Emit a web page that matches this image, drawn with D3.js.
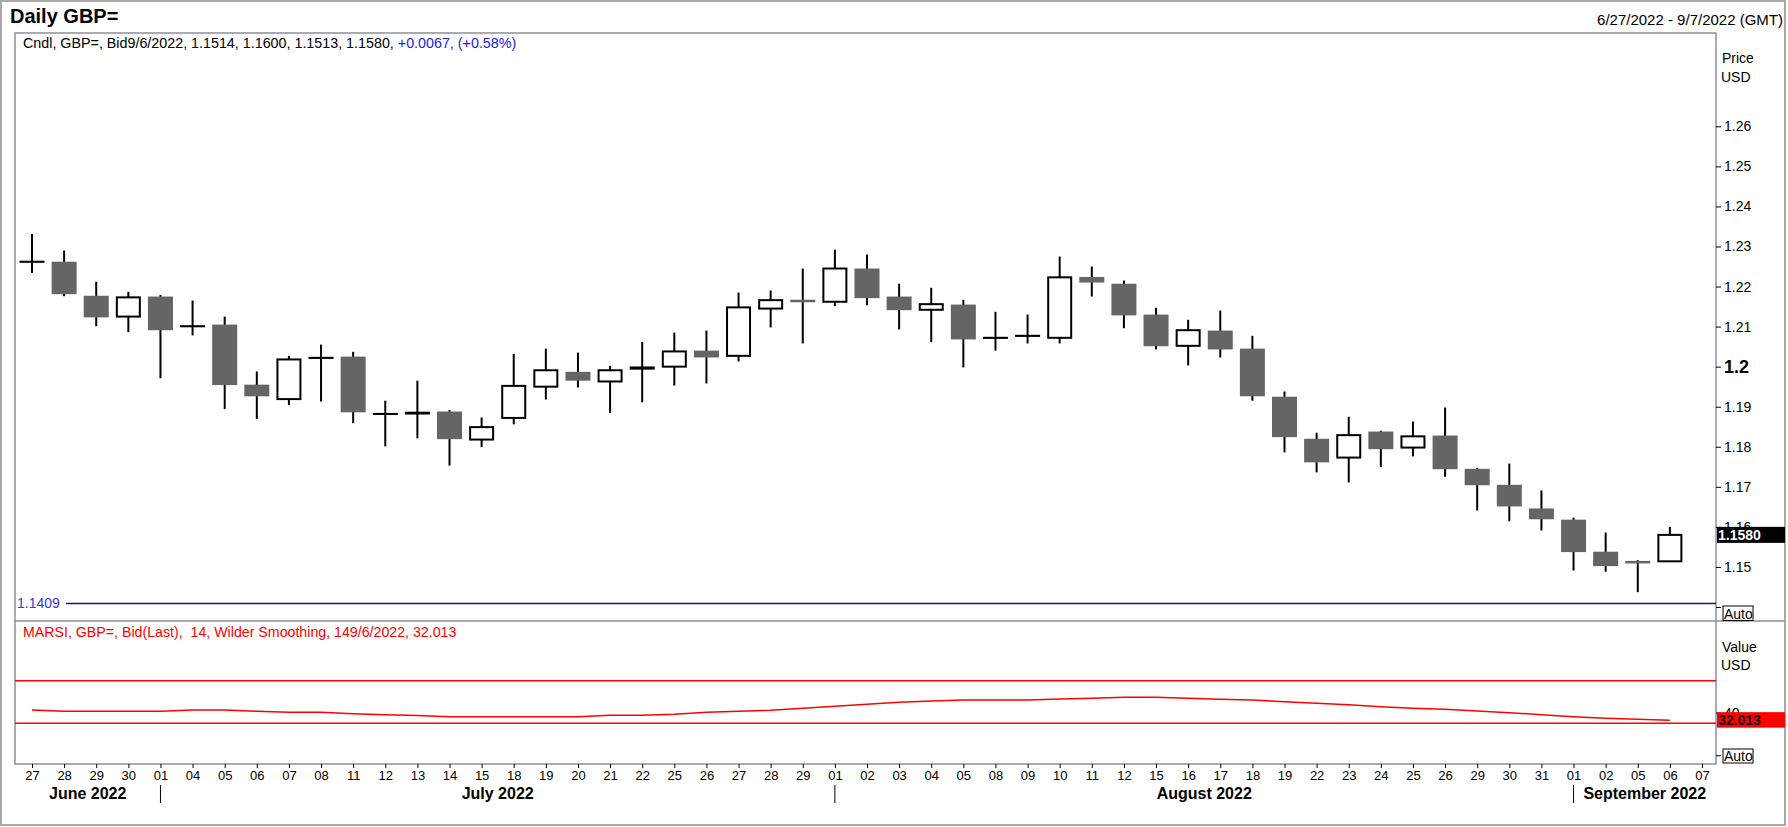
<!DOCTYPE html>
<html>
<head>
<meta charset="utf-8">
<script src="https://cdn.jsdelivr.net/npm/d3@7"></script>
<style>
  body { margin: 0; background: #fff; }
  svg { display: block; font-family: "Liberation Sans", Arial, sans-serif; }
  text { white-space: pre; }
</style>
</head>
<body>
<div id="container"></div>
<script>
/* DATA */
const dates = [
  "2022-06-27", "2022-06-28", "2022-06-29", "2022-06-30",
  "2022-07-01", "2022-07-04", "2022-07-05", "2022-07-06", "2022-07-07", "2022-07-08",
  "2022-07-11", "2022-07-12", "2022-07-13", "2022-07-14", "2022-07-15",
  "2022-07-18", "2022-07-19", "2022-07-20", "2022-07-21", "2022-07-22",
  "2022-07-25", "2022-07-26", "2022-07-27", "2022-07-28", "2022-07-29",
  "2022-08-01", "2022-08-02", "2022-08-03", "2022-08-04", "2022-08-05",
  "2022-08-08", "2022-08-09", "2022-08-10", "2022-08-11", "2022-08-12",
  "2022-08-15", "2022-08-16", "2022-08-17", "2022-08-18", "2022-08-19",
  "2022-08-22", "2022-08-23", "2022-08-24", "2022-08-25", "2022-08-26",
  "2022-08-29", "2022-08-30", "2022-08-31",
  "2022-09-01", "2022-09-02", "2022-09-05", "2022-09-06", "2022-09-07"
];
const monthNames = ["June 2022", "July 2022", "August 2022", "September 2022"];

const open = [1.2262, 1.2262, 1.2177, 1.2125, 1.2175, 1.2101, 1.2105, 1.1955, 1.1919, 1.2022,
  1.2025, 1.1882, 1.1883, 1.1888, 1.1818, 1.1872, 1.1950, 1.1987, 1.1963, 1.1995,
  1.2000, 1.2040, 1.2027, 1.2145, 1.2167, 1.2162, 1.2245, 1.2175, 1.2142, 1.2155,
  1.2072, 1.2077, 1.2072, 1.2224, 1.2207, 1.2130, 1.2052, 1.2090, 1.2045, 1.1925,
  1.1820, 1.1773, 1.1838, 1.1798, 1.1828, 1.1745, 1.1705, 1.1646, 1.1618, 1.1538,
  1.1515, 1.1514];
const high = [1.2331, 1.2290, 1.2212, 1.2187, 1.2179, 1.2165, 1.2125, 1.1988, 1.2027, 1.2055,
  1.2037, 1.1915, 1.1965, 1.1892, 1.1873, 1.2032, 1.2045, 1.2035, 1.2002, 1.2062,
  1.2085, 1.2090, 1.2185, 1.2190, 1.2245, 1.2292, 1.2280, 1.2207, 1.2197, 1.2167,
  1.2137, 1.2130, 1.2275, 1.2250, 1.2215, 1.2147, 1.2117, 1.2140, 1.2077, 1.1938,
  1.1835, 1.1875, 1.1840, 1.1863, 1.1898, 1.1747, 1.1758, 1.1691, 1.1623, 1.1586,
  1.1517, 1.1600];
const low = [1.2234, 1.2176, 1.2101, 1.2086, 1.1971, 1.2078, 1.1894, 1.1869, 1.1904, 1.1913,
  1.1859, 1.1801, 1.1821, 1.1753, 1.1799, 1.1856, 1.1918, 1.1948, 1.1884, 1.1911,
  1.1953, 1.1958, 1.2013, 1.2098, 1.2058, 1.2151, 1.2153, 1.2093, 1.2061, 1.1998,
  1.2040, 1.2058, 1.2058, 1.2175, 1.2096, 1.2043, 1.2003, 1.2023, 1.1915, 1.1786,
  1.1736, 1.1711, 1.1749, 1.1776, 1.1725, 1.1641, 1.1614, 1.1591, 1.1491, 1.1488,
  1.1437, 1.1513];
const close = [1.2262, 1.2181, 1.2123, 1.2173, 1.2091, 1.2101, 1.1954, 1.1926, 1.2018, 1.2022,
  1.1886, 1.1882, 1.1885, 1.1819, 1.1849, 1.1952, 1.1991, 1.1965, 1.1991, 1.1998,
  1.2038, 1.2023, 1.2148, 1.2166, 1.2164, 1.2245, 1.2171, 1.2141, 1.2156, 1.2068,
  1.2072, 1.2077, 1.2223, 1.2210, 1.2128, 1.2051, 1.2091, 1.2043, 1.1926, 1.1824,
  1.1761, 1.1829, 1.1794, 1.1826, 1.1744, 1.1704, 1.1651, 1.1619, 1.1537, 1.1502,
  1.1513, 1.1580];

const rsi = [42.5, 41.3, 41.3, 41.3, 41.3, 42.5, 42.5, 41.3, 40.3, 40.3,
  39.0, 38.1, 37.2, 36.2, 36.2, 36.2, 36.2, 36.2, 37.5, 37.5,
  38.5, 40.3, 41.3, 42.2, 44.1, 46.0, 47.8, 49.7, 50.9, 51.9,
  51.9, 51.9, 52.8, 53.5, 54.4, 54.4, 53.5, 52.5, 51.9, 50.3,
  48.8, 47.5, 45.6, 44.1, 43.1, 41.5, 40.0, 38.1, 36.2, 34.7,
  33.8, 32.8];

const priceTicks = [1.14, 1.15, 1.16, 1.17, 1.18, 1.19, 1.2, 1.21, 1.22, 1.23, 1.24, 1.25, 1.26];
const rsiTicks = [0, 40];
const rsiLevels = [70, 30];
const lowLevel = 1.1409;
const lastRsi = 32.013;

/* CONSTANTS AND GLOBALS */
const width = 1788;
const height = 827;
const plot = { left: 15, right: 1716, top: 33, split: 621, bottom: 764 };
const frameColor = "#8f8f9f";
const bodyWidth = 25;

const candles = open.map((o, i) => ({
  date: dates[i], open: o, high: high[i], low: low[i], close: close[i]
}));

/* SCALES */
const xScale = d3.scalePoint()
  .domain(dates)
  .range([32, 1702]);

const yPrice = d3.scaleLinear()
  .domain([1.1365, 1.2833])
  .range([plot.split, plot.top]);

const yRsi = d3.scaleLinear()
  .domain([-8.2, 126])
  .range([plot.bottom, plot.split]);

/* SVG ELEMENT */
const svg = d3.select("#container")
  .append("svg")
  .attr("width", width)
  .attr("height", height);

svg.append("rect")
  .attr("x", 1).attr("y", 1)
  .attr("width", 1784).attr("height", 824)
  .attr("fill", "#fff")
  .attr("stroke", "#a9a9a9")
  .attr("stroke-width", 2);

/* HEADER */
svg.append("text")
  .attr("x", 10).attr("y", 23)
  .style("font-size", "20px")
  .style("font-weight", "bold")
  .text("Daily GBP=");

svg.append("text")
  .attr("x", 1783).attr("y", 25)
  .attr("text-anchor", "end")
  .style("font-size", "15px")
  .text("6/27/2022 - 9/7/2022 (GMT)");

/* PANEL FRAMES */
svg.append("rect")
  .attr("x", plot.left).attr("y", plot.top)
  .attr("width", plot.right - plot.left)
  .attr("height", plot.bottom - plot.top)
  .attr("fill", "none")
  .attr("stroke", frameColor)
  .attr("stroke-width", 1.5);

svg.append("line")
  .attr("x1", plot.left).attr("x2", 1785)
  .attr("y1", plot.split).attr("y2", plot.split)
  .attr("stroke", frameColor)
  .attr("stroke-width", 1.5);

/* LOW LEVEL LINE */
svg.append("line")
  .attr("x1", 66).attr("x2", plot.right)
  .attr("y1", yPrice(lowLevel)).attr("y2", yPrice(lowLevel))
  .attr("stroke", "#12129a")
  .attr("stroke-width", 1.5);

svg.append("text")
  .attr("x", 17).attr("y", yPrice(lowLevel) + 5)
  .attr("fill", "#3a3ad0")
  .style("font-size", "14px")
  .text(lowLevel.toFixed(4));

/* CANDLES */
const candleG = svg.append("g");

candleG.selectAll("line.wick")
  .data(candles)
  .join("line")
  .attr("class", "wick")
  .attr("x1", d => xScale(d.date)).attr("x2", d => xScale(d.date))
  .attr("y1", d => yPrice(d.high)).attr("y2", d => yPrice(d.low))
  .attr("stroke", "#000")
  .attr("stroke-width", 2);

candleG.selectAll("rect.body")
  .data(candles)
  .join("rect")
  .attr("class", "body")
  .each(function(d) {
    const up = d.close >= d.open;
    const top = yPrice(Math.max(d.open, d.close));
    const h = Math.abs(yPrice(d.open) - yPrice(d.close));
    const r = d3.select(this);
    if (up) {
      r.attr("x", xScale(d.date) - bodyWidth / 2 + 1)
        .attr("width", bodyWidth - 2)
        .attr("y", top)
        .attr("height", Math.max(h, 0.1))
        .attr("fill", "#fff")
        .attr("stroke", "#000")
        .attr("stroke-width", 2);
    } else {
      r.attr("x", xScale(d.date) - bodyWidth / 2)
        .attr("width", bodyWidth)
        .attr("y", top)
        .attr("height", Math.max(h, 2.5))
        .attr("fill", "#656565");
    }
  });

/* PRICE AXIS */
const priceAxis = svg.append("g")
  .attr("transform", `translate(${plot.right}, 0)`)
  .call(d3.axisRight(yPrice)
    .tickValues(priceTicks)
    .tickSize(5)
    .tickPadding(3)
    .tickFormat(d => d === 1.2 ? "1.2" : d3.format(".2f")(d)));

priceAxis.select(".domain").remove();
priceAxis.selectAll("line").attr("stroke", "#000");
priceAxis.selectAll("text")
  .attr("fill", "#000")
  .style("font-family", "Liberation Sans, Arial, sans-serif")
  .style("font-size", d => d === 1.2 ? "18px" : "14px")
  .style("font-weight", d => d === 1.2 ? "bold" : "normal");
priceAxis.selectAll(".tick").filter(d => d < 1.145).select("text").remove();

svg.append("text")
  .attr("x", 1722).attr("y", 63)
  .style("font-size", "14px")
  .text("Price");
svg.append("text")
  .attr("x", 1721).attr("y", 82)
  .style("font-size", "14px")
  .text("USD");

/* LAST PRICE LABEL */
const lastClose = close[close.length - 1];
svg.append("rect")
  .attr("x", 1717).attr("y", yPrice(lastClose) - 8)
  .attr("width", 68).attr("height", 16)
  .attr("fill", "#000");
svg.append("text")
  .attr("x", 1718).attr("y", yPrice(lastClose) + 5)
  .attr("fill", "#fff")
  .style("font-size", "14px")
  .style("font-weight", "bold")
  .text(lastClose.toFixed(4));

/* AUTO BOXES */
function autoBox(y, h) {
  svg.append("rect")
    .attr("x", 1723).attr("y", y)
    .attr("width", 30).attr("height", h)
    .attr("fill", "#fff")
    .attr("stroke", "#000")
    .attr("stroke-width", 1);
  svg.append("text")
    .attr("x", 1724).attr("y", y + h - 2)
    .style("font-size", "14px")
    .text("Auto");
}
autoBox(606, 14.5);

/* LEGEND */
const n = candles.length - 1;
const change = close[n] - close[n - 1];
const legend = svg.append("text")
  .attr("x", 23).attr("y", 48)
  .style("font-size", "14.3px");
legend.append("tspan")
  .attr("fill", "#000")
  .text(`Cndl, GBP=, Bid9/6/2022, ${open[n].toFixed(4)}, ${high[n].toFixed(4)}, ${low[n].toFixed(4)}, ${close[n].toFixed(4)}, `);
legend.append("tspan")
  .attr("fill", "#2020ee")
  .text(`+${change.toFixed(4)}, (+${(change / close[n - 1] * 100).toFixed(2)}%)`);

/* RSI PANEL */
svg.append("text")
  .attr("x", 23).attr("y", 637)
  .attr("fill", "#ff0000")
  .style("font-size", "14.2px")
  .text(`MARSI, GBP=, Bid(Last),  14, Wilder Smoothing, 149/6/2022, ${lastRsi.toFixed(3)}`);

svg.selectAll("line.level")
  .data(rsiLevels)
  .join("line")
  .attr("class", "level")
  .attr("x1", plot.left).attr("x2", plot.right)
  .attr("y1", d => yRsi(d)).attr("y2", d => yRsi(d))
  .attr("stroke", "#ff0000")
  .attr("stroke-width", 1.5);

svg.append("path")
  .datum(rsi)
  .attr("d", d3.line()
    .x((d, i) => xScale(dates[i]))
    .y(d => yRsi(d)))
  .attr("fill", "none")
  .attr("stroke", "#ff0000")
  .attr("stroke-width", 1.5);

const rsiAxis = svg.append("g")
  .attr("transform", `translate(${plot.right}, 0)`)
  .call(d3.axisRight(yRsi)
    .tickValues(rsiTicks)
    .tickSize(5)
    .tickPadding(3));
rsiAxis.select(".domain").remove();
rsiAxis.selectAll("line").attr("stroke", "#000");
rsiAxis.selectAll("text")
  .attr("fill", "#000")
  .style("font-family", "Liberation Sans, Arial, sans-serif")
  .style("font-size", "14px");
rsiAxis.selectAll(".tick").filter(d => d === 0).select("text").remove();

svg.append("text")
  .attr("x", 1722).attr("y", 652)
  .style("font-size", "14px")
  .text("Value");
svg.append("text")
  .attr("x", 1721).attr("y", 670)
  .style("font-size", "14px")
  .text("USD");

svg.append("rect")
  .attr("x", 1717).attr("y", yRsi(lastRsi) - 9)
  .attr("width", 68).attr("height", 15.5)
  .attr("fill", "#ff0000");
svg.append("text")
  .attr("x", 1718).attr("y", yRsi(lastRsi) + 4)
  .attr("fill", "#111")
  .style("font-size", "14px")
  .style("font-weight", "bold")
  .text(lastRsi.toFixed(3));

autoBox(749, 14);

/* DATE AXIS */
const xAxis = svg.append("g")
  .attr("transform", `translate(0, ${plot.bottom})`)
  .call(d3.axisBottom(xScale)
    .tickSize(4)
    .tickPadding(3)
    .tickFormat(d => d.slice(8)));
xAxis.select(".domain").remove();
xAxis.selectAll("line").attr("stroke", "#000");
xAxis.selectAll("text")
  .attr("fill", "#000")
  .style("font-family", "Liberation Sans, Arial, sans-serif")
  .style("font-size", "13px");

/* MONTH LABELS */
const monthStarts = dates
  .map((d, i) => ({ d, i }))
  .filter(({ d, i }) => i === 0 || d.slice(5, 7) !== dates[i - 1].slice(5, 7));

const bounds = [plot.left]
  .concat(monthStarts.slice(1).map(m => xScale(m.d)))
  .concat([plot.right]);

svg.selectAll("line.month-sep")
  .data(monthStarts.slice(1))
  .join("line")
  .attr("class", "month-sep")
  .attr("x1", m => xScale(m.d)).attr("x2", m => xScale(m.d))
  .attr("y1", 785).attr("y2", 803)
  .attr("stroke", "#000")
  .attr("stroke-width", 1);

svg.selectAll("text.month")
  .data(monthNames)
  .join("text")
  .attr("class", "month")
  .attr("x", (m, i) => (bounds[i] + bounds[i + 1]) / 2)
  .attr("y", 799)
  .attr("text-anchor", "middle")
  .style("font-size", "16px")
  .style("font-weight", "bold")
  .text(m => m);
</script>
</body>
</html>
